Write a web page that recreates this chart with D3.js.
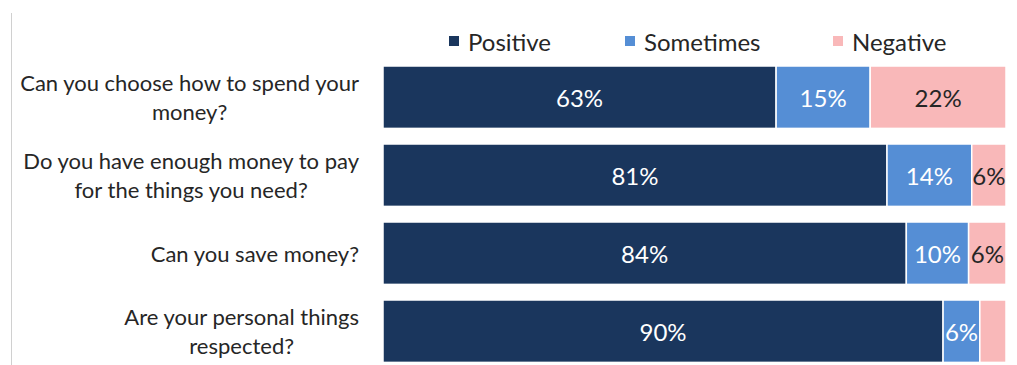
<!DOCTYPE html>
<html><head><meta charset="utf-8">
<script src="https://cdn.jsdelivr.net/npm/d3@7"></script>
<style>body{margin:0;background:#fff;} text{font-family:Lato, "Open Sans", sans-serif;}</style>
</head><body>
<svg id="c" width="1017" height="365"></svg>
<script>
const categories = [
  ["Can you choose how to spend your", "money?"],
  ["Do you have enough money to pay", "for the things you need?"],
  ["Can you save money?"],
  ["Are your personal things", "respected?"]
];
const seriesNames = ["Positive", "Sometimes", "Negative"];
const positive = [63.1, 80.9, 84.0, 89.9];
const sometimes = [15.1, 13.6, 10.0, 5.9];
const negative = [21.8, 5.5, 6.0, 4.2];
const colors = ["#1a365d", "#558ed5", "#f9b8b9"];
const labelColors = ["#ffffff", "#ffffff", "#262626"];

const svg = d3.select("#c");
const W = 1017, H = 365;
const x0 = 383, x1 = 1006;
const x = d3.scaleLinear().domain([0, 1]).range([x0, x1]);
const y = d3.scaleBand().domain(d3.range(categories.length)).range([58.2, 370.2]).paddingInner(0.2).paddingOuter(0.1);

svg.append("line").attr("x1", 11.5).attr("x2", 11.5).attr("y1", 13).attr("y2", H).attr("stroke", "#d0d0d0").attr("stroke-width", 1);

const rows = categories.map((c, i) => {
  const vals = [positive[i], sometimes[i], negative[i]];
  const tot = d3.sum(vals);
  let acc = 0;
  return vals.map((v, k) => { const s = acc / tot; acc += v; return {row: i, k, v, s, e: acc / tot}; });
});

const g = svg.append("g");
rows.forEach(r => r.forEach(d => {
  g.append("rect")
    .attr("x", x(d.s)).attr("y", y(d.row))
    .attr("width", x(d.e) - x(d.s)).attr("height", y.bandwidth())
    .attr("fill", colors[d.k]).attr("stroke", "#fff").attr("stroke-width", 1.5);
  if (d.v >= 5) {
    g.append("text")
      .attr("x", (x(d.s) + x(d.e)) / 2).attr("y", y(d.row) + y.bandwidth() / 2)
      .attr("text-anchor", "middle").attr("dominant-baseline", "central")
      .attr("font-size", 24).attr("fill", labelColors[d.k])
      .text(Math.round(d.v) + "%");
  }
}));

// category labels
const fs = 22, lh = 29;
categories.forEach((lines, i) => {
  const t = svg.append("text").attr("font-size", fs).attr("fill", "#262626").attr("text-anchor", "middle");
  const tmp = lines.map(l => { const s = svg.append("text").attr("font-size", fs).text(l); const w = s.node().getComputedTextLength(); s.remove(); return w; });
  const maxw = d3.max(tmp);
  const cx = 359 - maxw / 2;
  const cy = y(i) + y.bandwidth() / 2;
  const top = cy - (lines.length - 1) * lh / 2;
  lines.forEach((l, j) => {
    t.append("tspan").attr("x", cx).attr("y", top + j * lh).attr("dominant-baseline", "central").text(l);
  });
});

// legend
const legX = [449, 625, 833];
seriesNames.forEach((n, k) => {
  svg.append("rect").attr("x", legX[k]).attr("y", 36).attr("width", 10).attr("height", 10).attr("fill", colors[k]);
  svg.append("text").attr("x", legX[k] + 19).attr("y", 41).attr("dominant-baseline", "central")
    .attr("font-size", 24).attr("fill", "#262626").text(n);
});
</script>
</body></html>
